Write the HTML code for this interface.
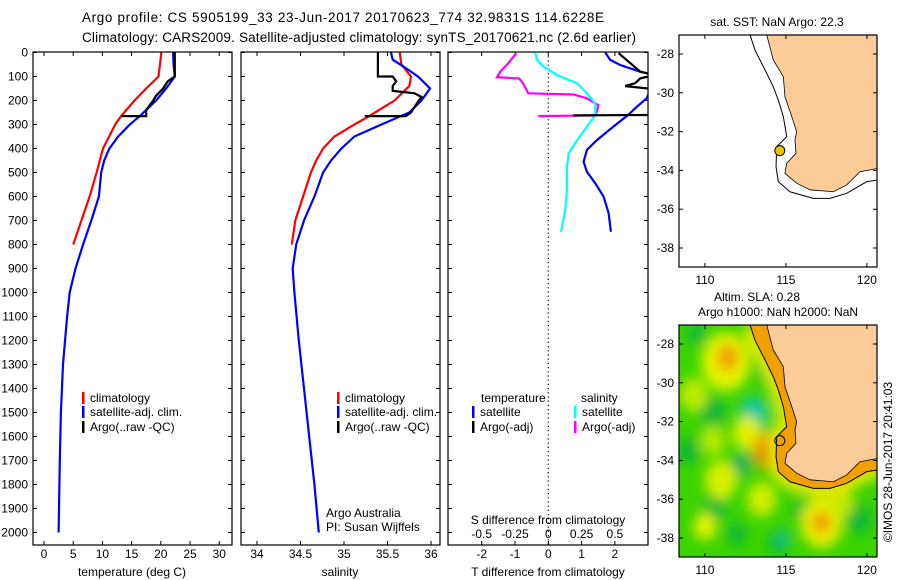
<!DOCTYPE html>
<html><head><meta charset="utf-8">
<style>
html,body{margin:0;padding:0;background:#fff;}
svg{display:block;font-family:"Liberation Sans",sans-serif;}
text{fill:#000;}
</style></head>
<body>
<svg id="s" width="900" height="580" viewBox="0 0 900 580" xmlns="http://www.w3.org/2000/svg">
<defs>
<filter id="blur" x="-20%" y="-20%" width="140%" height="140%"><feGaussianBlur stdDeviation="6"/></filter>
<clipPath id="c1"><rect x="33" y="52" width="199" height="493"/></clipPath>
<clipPath id="c2"><rect x="241" y="52" width="199" height="493"/></clipPath>
<clipPath id="c3"><rect x="448" y="52" width="200" height="493"/></clipPath>
<clipPath id="m1"><rect x="679" y="35" width="198" height="232"/></clipPath>
<clipPath id="m2"><rect x="679" y="325" width="198" height="232"/></clipPath>
</defs>
<text x="82" y="22" font-size="13.5" textLength="522">Argo profile: CS 5905199_33 23-Jun-2017 20170623_774 32.9831S 114.6228E</text>
<text x="82" y="42" font-size="13.5" textLength="554">Climatology: CARS2009. Satellite-adjusted climatology: synTS_20170621.nc (2.6d earlier)</text>
</svg>
<script>
// ---------- data ----------
const depthTclim=[0,100,150,200,265,300,400,500,600,700,800];
const tempClim=[20.1,19.6,17.5,15.5,13.2,12.2,10.1,9.0,7.8,6.4,5.0];
const depthTsat=[0,50,100,150,200,265,300,350,400,450,500,600,700,800,900,1000,1100,1300,1500,1700,2000];
const tempSat=[22.1,22.2,22.4,20.9,19.2,16.4,14.7,12.7,11.2,10.3,9.8,9.4,8.1,6.7,5.4,4.4,3.95,3.25,2.9,2.7,2.5];
const depthTargo=[0,100,120,150,180,200,240,265,265,268];
const tempArgo=[22.4,22.4,21.2,20.4,19.2,18.7,17.5,17.5,13.4,13.4];

const depthSclim=[0,50,100,140,200,265,300,350,400,450,500,600,700,800];
const salClim=[35.64,35.66,35.77,35.75,35.58,35.29,35.12,34.89,34.76,34.68,34.62,34.53,34.44,34.40];
const depthSsat=[0,30,60,100,150,200,250,300,350,400,450,500,600,700,800,900,1000,1200,1500,1800,2000];
const salSat=[35.54,35.56,35.69,35.85,35.99,35.89,35.75,35.43,35.12,34.97,34.85,34.76,34.66,34.54,34.45,34.41,34.43,34.48,34.57,34.66,34.71];
const depthSargo=[0,100,100,120,140,160,170,185,200,250,265,265,268];
const salArgo=[35.39,35.39,35.56,35.60,35.56,35.56,35.81,35.89,35.86,35.77,35.71,35.25,35.25];

const depthDTsat=[0,31,52,80,94,190,226,260,309,365,406,455,497,545,601,669,747];
const dTsat=[1.71,1.86,2.16,2.76,3.2,2.96,2.66,2.40,1.95,1.46,1.16,1.06,1.16,1.41,1.66,1.81,1.88];
const depthDTargo=[3,44,80,94,108,128,140,153,200,260,262];
const dTargo=[2.11,2.46,2.76,3.2,2.76,2.61,2.31,3.2,3.5,3.5,0.75];
const depthDSsat=[0,31,59,94,128,170,212,260,309,365,420,476,573,656,747];
const dSsat=[-0.098,-0.085,-0.035,0.065,0.216,0.29,0.353,0.353,0.29,0.216,0.153,0.14,0.14,0.128,0.095];
const depthDSargo=[3,44,80,103,108,128,170,175,191,219,247,262,265];
const dSargo=[-0.24,-0.30,-0.36,-0.385,-0.22,-0.19,-0.15,0.19,0.29,0.375,0.365,0.35,-0.075];

const depthTicks=[0,100,200,300,400,500,600,700,800,900,1000,1100,1200,1300,1400,1500,1600,1700,1800,1900,2000];
const tempTicks=[0,5,10,15,20,25,30];
const salTicks=[34,34.5,35,35.5,36];
const salTickLabels=["34","34.5","35","35.5","36"];
const dTTicks=[-2,-1,0,1,2];
const dSTicks=[-0.5,-0.25,0,0.25,0.5];
const dSTickLabels=["-0.5","-0.25","0","0.25","0.5"];

const coastLon=[113.81,114.22,114.84,114.94,115.36,115.66,115.56,115.62,115.05,114.94,115.66,116.49,117.93,118.75,119.57,120.64,120.9];
const coastLat=[-27.0,-28.31,-29.17,-30.2,-31.23,-32.0,-32.43,-33.12,-33.63,-34.15,-34.66,-35.0,-35.1,-34.75,-34.07,-33.9,-33.9];
const shelfLon=[112.78,113.09,113.71,114.22,114.53,114.84,115.05,114.43,114.39,114.53,115.25,116.69,117.72,118.75,119.99,120.64,120.9];
const shelfLat=[-27.0,-27.8,-28.82,-29.69,-30.37,-31.23,-32.26,-32.78,-33.81,-34.58,-35.1,-35.44,-35.44,-35.18,-34.58,-34.5,-34.5];
const lonTicks=[110,115,120];
const latTicks=[-28,-30,-32,-34,-36,-38];
const argoLon=114.6228, argoLat=-32.9831;
const darkLon=[109.0,110.5,112.2,110.6,112.0,114.5,116.0,119.5,113.8,109.5];
const darkLat=[-33.5,-31.5,-34.3,-36.5,-37.8,-38.3,-36.6,-37.0,-29.5,-27.5];
const darkR=[0.7,0.8,0.6,0.7,0.6,0.6,0.6,0.8,0.6,0.6];
const slaLon=[111.3,111.4,109.3,113.0,112.6,113.9,114.0,117.2,117.2,110.0,114.8,112.3,111.0,113.5,110.5,118.5];
const slaLat=[-28.9,-28.7,-30.6,-31.6,-32.6,-33.5,-33.7,-37.2,-37.2,-37.4,-38.0,-34.1,-35.0,-36.0,-33.0,-36.2];
const slaR=[1.5,0.7,0.9,0.9,0.9,1.0,0.45,1.3,0.55,0.7,0.45,0.45,1.0,0.9,0.8,0.7];
const slaColor=["#e6f400","#f0a000","#b8ec00","#10c8a0","#e0f000","#f0a000","#b85010","#e8f000","#f09000","#e6f200","#10c090","#10a870","#d8f000","#d0ee00","#b0e800","#c0ea00"];

// ---------- helpers ----------
const NS="http://www.w3.org/2000/svg";
const svg=document.getElementById('s');
function mk(tag,attrs,parent){const e=document.createElementNS(NS,tag);for(const k in attrs)e.setAttribute(k,attrs[k]);(parent||svg).appendChild(e);return e;}
function txt(x,y,s,size,anchor,parent){const t=mk('text',{x:x,y:y,'font-size':size||12,'text-anchor':anchor||'start'},parent);t.textContent=s;return t;}
const yD=d=>52.5+d*0.24;
const xT=t=>44+t*5.84;
const xS=s=>257+(s-34)*87;
const xDT=t=>548.3+t*33.3;
const xDS=s=>548.3+s*133.2;

function line(xs,ys,fx,color,clip,name,w){
  const pts=xs.map((v,i)=>fx(v).toFixed(1)+','+yD(ys[i]).toFixed(1)).join(' ');
  const p=mk('polyline',{points:pts,fill:'none',stroke:color,'stroke-width':w||2.2,'clip-path':'url(#'+clip+')'});
  
  
}
function box(x0,x1,name){
  const r=mk('rect',{x:x0,y:52,width:x1-x0,height:493,fill:'none',stroke:'#000','stroke-width':1.2});
  
  
  depthTicks.forEach(d=>{const y=yD(d);mk('line',{x1:x0,y1:y,x2:x0+4,y2:y,stroke:'#000'});mk('line',{x1:x1-4,y1:y,x2:x1,y2:y,stroke:'#000'});});
}
function xticks(vals,fx,labels,y){
  vals.forEach((v,i)=>{const x=fx(v);mk('line',{x1:x,y1:52,x2:x,y2:56,stroke:'#000'});mk('line',{x1:x,y1:541,x2:x,y2:545,stroke:'#000'});
    const t=txt(x,y,labels?labels[i]:String(v),12,'middle');
    
    });
}
function legendEntry(x,y,color,label){
  const g=mk('g',{});
  
  
  mk('rect',{x:x,y:y-10,width:2.5,height:12,fill:color},g);
  txt(x+8,y,label,12,'start',g);
}

// y-axis labels
depthTicks.forEach(d=>{const t=txt(28,yD(d)+4,String(d),12,'end');
  
  });

// panel 1 temperature
box(33,232,'temperature-panel');
xticks(tempTicks,xT,null,558);
line(tempClim,depthTclim,xT,'#ff0000','c1','climatology-temperature-line');
line(tempSat,depthTsat,xT,'#0000ff','c1','satellite-temperature-line');
line(tempArgo,depthTargo,xT,'#000000','c1','argo-temperature-line');
let t=txt(132,576,'temperature (deg C)',12,'middle');


legendEntry(82,402,'#ff0000','climatology');
legendEntry(82,416,'#0000ff','satellite-adj. clim.');
legendEntry(82,431,'#000000','Argo(..raw -QC)');

// panel 2 salinity
box(241,440,'salinity-panel');
xticks(salTicks,xS,salTickLabels,558);
line(salClim,depthSclim,xS,'#ff0000','c2','climatology-salinity-line');
line(salSat,depthSsat,xS,'#0000ff','c2','satellite-salinity-line');
line(salArgo,depthSargo,xS,'#000000','c2','argo-salinity-line');
t=txt(340,576,'salinity',12,'middle');


legendEntry(337,402,'#ff0000','climatology');
legendEntry(337,416,'#0000ff','satellite-adj. clim.');
legendEntry(337,431,'#000000','Argo(..raw -QC)');
t=txt(326,517,'Argo Australia',12);


t=txt(326,531,'PI: Susan Wijffels',12);



// panel 3 differences
box(448,648,'difference-panel');
const z=mk('line',{x1:548.3,y1:52,x2:548.3,y2:545,stroke:'#000','stroke-dasharray':'1.2,3','stroke-width':1.2});


xticks(dTTicks,xDT,null,558);
dSTicks.forEach((v,i)=>{const tt=txt(xDS(v),538,dSTickLabels[i],12,'middle');
  
  });
line(dSargo,depthDSargo,xDS,'#ff00ff','c3','argo-salinity-diff-line');
line(dTsat,depthDTsat,xDT,'#0000ff','c3','satellite-temperature-diff-line');
line(dSsat,depthDSsat,xDS,'#00ffff','c3','satellite-salinity-diff-line');
line(dTargo,depthDTargo,xDT,'#000000','c3','argo-temperature-diff-line');
t=txt(548,576,'T difference from climatology',12,'middle');


t=txt(548,524,'S difference from climatology',12,'middle');


t=txt(481,402,'temperature',12);
t=txt(581,402,'salinity',12);
legendEntry(472,416,'#0000ff','satellite');
legendEntry(472,431,'#000000','Argo(-adj)');
legendEntry(574,416,'#00ffff','satellite');
legendEntry(574,431,'#ff00ff','Argo(-adj)');

// ---------- maps ----------
const mx=lon=>679+(lon-108.4)*16.2;
function drawMap(yoff,clip,name,heat){
  const my=lat=>54+yoff+(-28-lat)*19.4;
  const g=mk('g',{'clip-path':'url(#'+clip+')'});
  
  
  mk('rect',{x:679,y:35+yoff,width:198,height:232,fill:heat?'#3cd400':'#fff'},g);
  if(heat){
    const hg=mk('g',{filter:'url(#blur)'},g);
    darkLon.forEach((lo,i)=>{const c=mk('ellipse',{cx:mx(lo),cy:my(darkLat[i]),rx:darkR[i]*16.2,ry:darkR[i]*19.4,fill:'#10b838'},hg);
      
      });
    slaLon.forEach((lo,i)=>{const c=mk('ellipse',{cx:mx(lo),cy:my(slaLat[i]),rx:slaR[i]*16.2,ry:slaR[i]*19.4,fill:slaColor[i]},hg);
      
      });
    const band=shelfLon.map((v,i)=>mx(v)+','+my(shelfLat[i])).join(' ');
    mk('polyline',{points:band,fill:'none',stroke:'#e8e800','stroke-width':16},hg);
    const shelfPoly=shelfLon.map((v,i)=>mx(v)+','+my(shelfLat[i])).concat(coastLon.slice().reverse().map((v,i,a)=>mx(v)+','+my(coastLat[coastLat.length-1-i]))).join(' ');
    const sp=mk('polygon',{points:shelfPoly,fill:'#f0a000'},g);
    
    
  }
  const landPts=coastLon.map((v,i)=>mx(v)+','+my(coastLat[i])).concat([mx(121)+','+my(-33.9),mx(121)+','+my(-26.5),mx(113.81)+','+my(-26.5)]).join(' ');
  const land=mk('polygon',{points:landPts,fill:'#fccc98',stroke:'#000','stroke-width':0.8},g);
  
  
  const sh=mk('polyline',{points:shelfLon.map((v,i)=>mx(v)+','+my(shelfLat[i])).join(' '),fill:'none',stroke:'#000','stroke-width':1},g);
  
  
  const r=mk('rect',{x:679,y:35+yoff,width:198,height:232,fill:'none',stroke:'#000','stroke-width':1.2});
  
  
  lonTicks.forEach(lo=>{const x=mx(lo);mk('line',{x1:x,y1:35+yoff,x2:x,y2:39+yoff,stroke:'#000'});mk('line',{x1:x,y1:263+yoff,x2:x,y2:267+yoff,stroke:'#000'});
    const tt=txt(x,284+yoff,String(lo),12,'middle');
    
    });
  latTicks.forEach(la=>{const y=my(la);mk('line',{x1:679,y1:y,x2:683,y2:y,stroke:'#000'});mk('line',{x1:873,y1:y,x2:877,y2:y,stroke:'#000'});
    const tt=txt(674,y+4,String(la),12,'end');
    
    });
  const m=mk('circle',{cx:mx(argoLon),cy:my(argoLat),r:5,fill:heat?'none':'#f0c000',stroke:'#000','stroke-width':1});
  
  
}
drawMap(0,'m1','sst-map',false);
drawMap(290,'m2','sla-map',true);
t=txt(777,26,'sat. SST: NaN Argo: 22.3',12,'middle');
t=txt(757,301,'Altim. SLA: 0.28',12,'middle');
t=txt(778,316,'Argo h1000: NaN h2000: NaN',12,'middle');
t=txt(0,0,'©IMOS 28-Jun-2017 20:41:03',12,'middle');
t.setAttribute('transform','translate(892,462) rotate(-90)');


</script>
</body></html>
